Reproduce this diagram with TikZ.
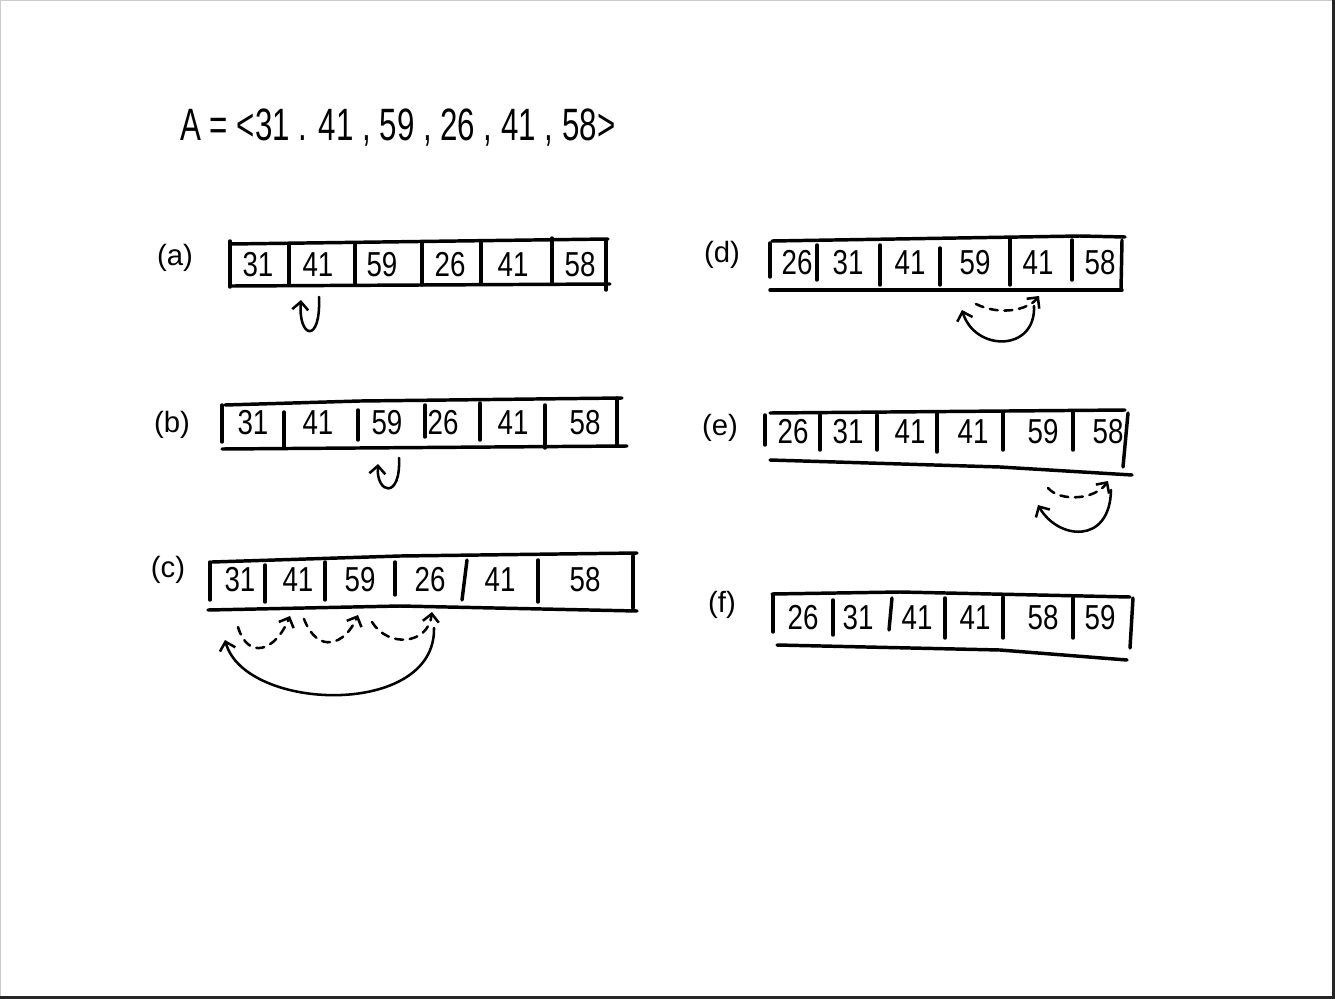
\documentclass[tikz,border=0pt]{standalone}
\usepackage{fontspec}
\setmainfont{Liberation Sans}
\usetikzlibrary{arrows.meta}
\tikzset{
 pen/.style={line width=2.6pt, line cap=round, line join=round},
 num/.style={font=\fontsize{26}{26}\selectfont, inner sep=0pt},
 lbl/.style={font=\fontsize{22}{22}\selectfont, inner sep=0pt},
 arr/.style={line width=1.9pt, line cap=round, -{Straight Barb[length=6pt,width=12pt,line width=1.9pt]}},
 darr/.style={arr, dash pattern=on 6pt off 5pt},
}
\newcommand{\hw}[1]{\scalebox{0.8}[1]{#1}}
\begin{document}
\begin{tikzpicture}[x=0.75pt,y=-0.75pt]
\useasboundingbox (0,0) rectangle (1335,999);
\fill[white] (0,0) rectangle (1335,999);
\draw[gray!40, line width=0.75pt] (0.5,998) -- (0.5,0.5) -- (1334,0.5);
\draw[black!85, line width=2.2pt] (0,997.5) -- (1333.5,997.5) -- (1333.5,0);

% title
\node[font=\fontsize{34}{34}\selectfont, anchor=west, inner sep=0pt] (title) at (180,128)
  {\scalebox{0.69}[1]{A = <31 . 41 , 59 , 26 , 41 , 58>}};

% labels
\node[lbl] (la) at (175,258) {(a)};
\node[lbl] (lb) at (172,425) {(b)};
\node[lbl] (lc) at (168,570) {(c)};
\node[lbl] (ld) at (722,255) {(d)};
\node[lbl] (le) at (720,428) {(e)};
\node[lbl] (lf) at (722,605) {(f)};

% ---------- (a) ----------
\draw[pen] (230,244) -- (608,239);
\draw[pen] (232,286) -- (610,284);
\draw[pen] (230,241) -- (230,287);
\draw[pen] (606,241) -- (606,290);
\foreach \x/\t/\b in {289/244/285, 355/244/285, 422/243/285, 481/242/284, 552/238/283}
  \draw[pen] (\x,\t) -- (\x,\b);
\foreach \i/\x/\v in {1/258/31, 2/318/41, 3/382/59, 4/450/26, 5/513/41, 6/580/58}
  \node[num] (a\i) at (\x,265) {\hw{\v}};

% ---------- (b) ----------
\draw[pen] (225,405) -- (360,401) -- (622,398);
\draw[pen] (222,449) -- (627,446);
\draw[pen] (222,405) -- (222,442);
\draw[pen] (617,398) -- (617,445);
\foreach \x/\t/\b in {284/412/447, 358/410/440, 425/405/437, 480/403/440, 545/405/448}
  \draw[pen] (\x,\t) -- (\x,\b);
\foreach \i/\x/\v in {1/253/31, 2/318/41, 3/387/59, 4/443/26, 5/513/41, 6/585/58}
  \node[num] (b\i) at (\x,423) {\hw{\v}};

% ---------- (c) ----------
\draw[pen] (212,562) -- (400,556) -- (637,553);
\draw[pen] (208,610) -- (400,606) -- (637,611);
\draw[pen] (210,562) -- (210,600);
\draw[pen] (633,556) -- (633,608);
\foreach \x/\t/\b in {265/565/602, 325/562/600, 395/562/595, 538/560/602}
  \draw[pen] (\x,\t) -- (\x,\b);
\draw[pen] (467,560) -- (462,600);
\foreach \i/\x/\v in {1/240/31, 2/298/41, 3/360/59, 4/430/26, 5/500/41, 6/585/58}
  \node[num] (c\i) at (\x,580) {\hw{\v}};

% ---------- (d) ----------
\draw[pen] (772,241) -- (1080,236) -- (1125,237);
\draw[pen] (770,290) -- (1122,290);
\draw[pen] (770,243) -- (770,277);
\draw[pen] (1122,240) -- (1121,290);
\foreach \x/\t/\b in {817/245/280, 880/245/285, 940/248/285, 1010/238/285, 1072/240/280}
  \draw[pen] (\x,\t) -- (\x,\b);
\foreach \i/\x/\v in {1/797/26, 2/848/31, 3/910/41, 4/975/59, 5/1038/41, 6/1100/58}
  \node[num] (d\i) at (\x,263) {\hw{\v}};

% ---------- (e) ----------
\draw[pen] (770,413) -- (1125,410);
\draw[pen] (770,460) -- (1000,467) -- (1132,475);
\draw[pen] (765,415) -- (765,445);
\draw[pen] (1128,413) -- (1123,467);
\foreach \x/\t/\b in {820/415/450, 877/415/450, 937/413/452, 1003/412/450, 1073/412/450}
  \draw[pen] (\x,\t) -- (\x,\b);
\foreach \i/\x/\v in {1/793/26, 2/848/31, 3/910/41, 4/973/41, 5/1043/59, 6/1108/58}
  \node[num] (e\i) at (\x,432) {\hw{\v}};

% ---------- (f) ----------
\draw[pen] (772,594) -- (900,592) -- (1130,597);
\draw[pen] (777,645) -- (1000,650) -- (1127,660);
\draw[pen] (773,595) -- (773,632);
\draw[pen] (1133,598) -- (1130,648);
\foreach \x/\t/\b in {833/600/635, 945/598/638, 1003/597/638, 1073/598/638}
  \draw[pen] (\x,\t) -- (\x,\b);
\draw[pen] (892,598) -- (889,630);
\foreach \i/\x/\v in {1/803/26, 2/858/31, 3/917/41, 4/975/41, 5/1043/58, 6/1100/59}
  \node[num] (f\i) at (\x,618) {\hw{\v}};

% ---------- arrows ----------
% (a)
\coordinate (pa1) at (319,297);
\coordinate (pa2) at (301,300);
\draw[arr] (pa1) .. controls (321,345) and (298,338) .. (pa2);
% (b)
\coordinate (pb1) at (399,458);
\coordinate (pb2) at (378,464);
\draw[arr] (pb1) .. controls (401,500) and (376,494) .. (pb2);
% (c)
\coordinate (pc1) at (238,627);
\coordinate (pc2) at (290,616);
\coordinate (pc3) at (304,619);
\coordinate (pc4) at (358,615);
\coordinate (pc5) at (372,622);
\coordinate (pc6) at (432,612);
\coordinate (pc7) at (434,628);
\coordinate (pc8) at (225,640);
\draw[darr] (pc1) .. controls (248,660) and (275,652) .. (pc2);
\draw[darr] (pc3) .. controls (318,655) and (345,645) .. (pc4);
\draw[darr] (pc5) .. controls (388,648) and (428,645) .. (pc6);
\draw[arr] (pc7) .. controls (436,718) and (245,712) .. (pc8);
% (d)
\coordinate (pd1) at (976,304);
\coordinate (pd2) at (1039,296);
\coordinate (pd3) at (1034,306);
\coordinate (pd4) at (962,310);
\draw[darr] (pd1) .. controls (1000,316) and (1028,310) .. (pd2);
\draw[arr] (pd3) .. controls (1036,352) and (975,352) .. (pd4);
% (e)
\coordinate (pe1) at (1048,488);
\coordinate (pe2) at (1108,481);
\coordinate (pe3) at (1111,490);
\coordinate (pe4) at (1038,505);
\draw[darr] (pe1) .. controls (1060,502) and (1095,500) .. (pe2);
\draw[arr] (pe3) .. controls (1110,545) and (1058,540) .. (pe4);
\end{tikzpicture}
\end{document}
